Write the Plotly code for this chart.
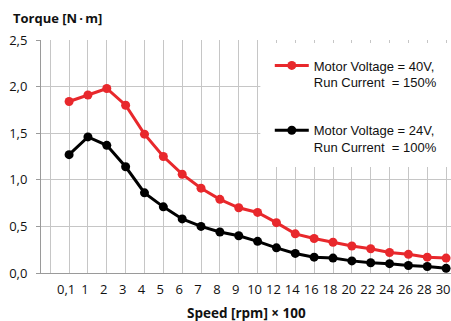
import plotly.graph_objects as go

categories = ["0,1", "1", "2", "3", "4", "5", "6", "7", "8", "9", "10",
              "12", "14", "16", "18", "20", "22", "24", "26", "28", "30"]
torque_40v = [1.84, 1.91, 1.98, 1.80, 1.49, 1.25, 1.06, 0.91, 0.79, 0.70, 0.65,
              0.54, 0.42, 0.37, 0.33, 0.29, 0.26, 0.22, 0.20, 0.17, 0.16]
torque_24v = [1.27, 1.46, 1.37, 1.14, 0.86, 0.71, 0.58, 0.50, 0.44, 0.40, 0.34,
              0.27, 0.21, 0.17, 0.16, 0.13, 0.11, 0.10, 0.08, 0.07, 0.05]
series_names = ["Motor Voltage = 40V,<br>Run Current  = 150%",
                "Motor Voltage = 24V,<br>Run Current  = 100%"]
colors = ["#e8282c", "#000000"]

idx = list(range(len(categories)))
xrange = [-1.49, 20.26]
grid = "#c6c6c6"
axis = "#9a9a9a"

fig = go.Figure()
for name, vals, col, grp in [(series_names[0], torque_40v, colors[0], "a"),
                             (series_names[1], torque_24v, colors[1], "b")]:
    fig.add_trace(go.Scatter(
        x=idx, y=vals, name=name, mode="lines+markers", legendgroup=grp,
        line=dict(color=col, width=3), marker=dict(color=col, size=9),
        cliponaxis=False))

fig.add_shape(type="rect", xref="paper", yref="paper", x0=0.535, x1=1.0,
              y0=0.455, y1=0.987, fillcolor="white", line=dict(width=0),
              layer="above")

fig.update_layout(
    width=451, height=321, margin=dict(l=41, r=0, t=40, b=48),
    paper_bgcolor="white", plot_bgcolor="white",
    separators=",.",
    font=dict(family="Liberation Sans, Arial, sans-serif", size=13, color="#111"),
    showlegend=True,
    legend=dict(x=0.558, xanchor="left", y=0.955, yanchor="top",
                bgcolor="rgba(0,0,0,0)", valign="top", tracegroupgap=28,
                itemwidth=34, font=dict(family="Liberation Sans, Arial, sans-serif", size=13)),
    xaxis=dict(range=xrange, tickmode="array", tickvals=[-1] + idx,
               ticktext=[""] + categories, ticks="", showgrid=True, gridcolor=grid,
               gridwidth=1, showline=True, linecolor=axis, linewidth=1, zeroline=False,
               ticklabelshift=-3, ticklabelstandoff=4,
               tickfont=dict(family="Open Sans, sans-serif", size=13, color="#111")),
    xaxis2=dict(range=xrange, overlaying="x", anchor="y", side="bottom",
                tickmode="array", tickvals=[i - 0.5 for i in idx], ticks="outside",
                ticklen=4, tickcolor=axis, showticklabels=False, showgrid=False,
                showline=False, zeroline=False),
    yaxis=dict(range=[0, 2.5], tickmode="linear", tick0=0, dtick=0.5, tickformat=".1f",
               showgrid=True, gridcolor=grid, gridwidth=1, showline=True, linecolor=axis,
               ticks="outside", ticklen=4, tickcolor=axis, zeroline=False,
               ticklabelstandoff=6,
               tickfont=dict(family="Open Sans, sans-serif", size=13, color="#111")),
    annotations=[
        dict(text="<b>Torque [N\u2009·\u2009m]</b>", xref="paper", yref="paper",
             x=-0.072, y=1.094, xanchor="left", yanchor="middle", showarrow=False,
             font=dict(family="Open Sans, sans-serif", size=13, color="#111")),
        dict(text="<b>Speed [rpm] × 100</b>", xref="paper", yref="paper",
             x=0.5, y=-0.172, xanchor="center", yanchor="middle", showarrow=False,
             font=dict(family="Open Sans, sans-serif", size=13.5, color="#111")),
    ],
)

fig.write_html("out.html")
